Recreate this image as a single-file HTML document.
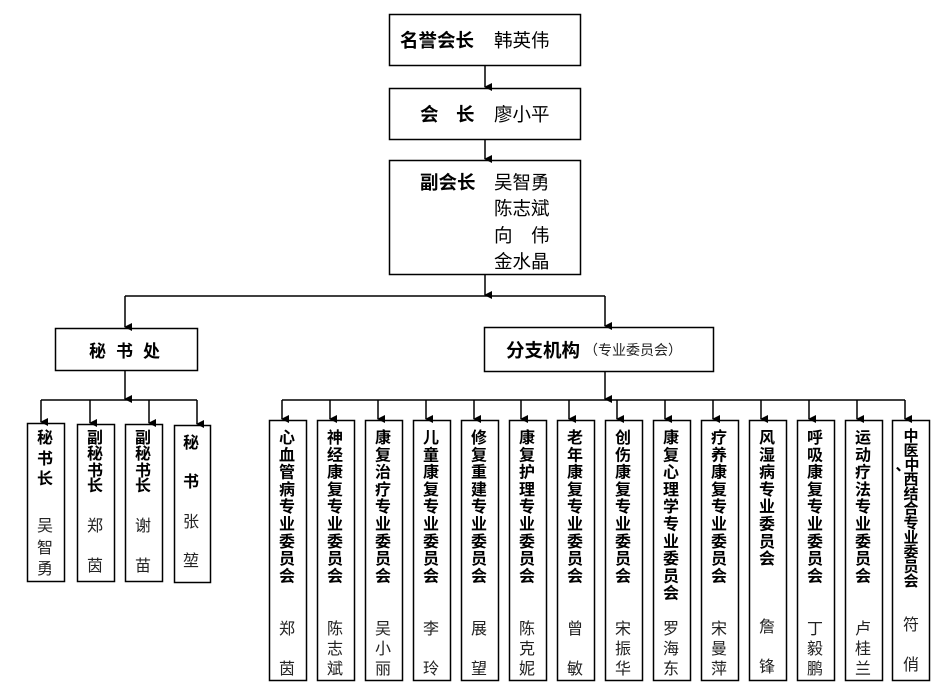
<!DOCTYPE html>
<html><head><meta charset="utf-8"><style>
body{margin:0;background:#fff}
svg{display:block}
text{font-family:"Liberation Sans","Noto Sans CJK SC",sans-serif;fill:#000}
.b{font-weight:bold;font-size:18.5px}
.n{font-size:18.5px}
.v{font-weight:600;font-size:16px;text-anchor:middle}
.m{font-size:16px;text-anchor:middle;fill:#222}
</style></head><body>
<svg width="938" height="689" viewBox="0 0 938 689" xmlns="http://www.w3.org/2000/svg">
<defs><marker id="a" markerWidth="8" markerHeight="8" refX="4" refY="7" orient="auto" markerUnits="userSpaceOnUse"><path d="M0,0 L8,0 L4,8 z" fill="#000"/></marker></defs>
<g fill="none" stroke="#000" stroke-width="1.5">
<rect x="389.5" y="14.5" width="191" height="51"/>
<rect x="389.5" y="88.5" width="191" height="51"/>
<rect x="389.5" y="160.5" width="191" height="114"/>
<rect x="55.5" y="328.5" width="142" height="42"/>
<rect x="484.5" y="327.5" width="229" height="44"/>
<line x1="485" y1="66" x2="485" y2="87" marker-end="url(#a)"/>
<line x1="485" y1="140" x2="485" y2="159" marker-end="url(#a)"/>
<line x1="485" y1="275" x2="485" y2="295" marker-end="url(#a)"/>
<line x1="125" y1="296" x2="605" y2="296"/>
<line x1="125" y1="296" x2="125" y2="327" marker-end="url(#a)"/>
<line x1="605" y1="296" x2="605" y2="326" marker-end="url(#a)"/>
<line x1="125" y1="371" x2="125" y2="399" marker-end="url(#a)"/>
<line x1="41" y1="400" x2="197" y2="400"/>
<line x1="605" y1="372" x2="605" y2="399" marker-end="url(#a)"/>
<line x1="282" y1="400" x2="905" y2="400"/>
</g>
<g fill="none" stroke="#000" stroke-width="1.5">
<rect x="27.5" y="423.5" width="37" height="158"/>
<rect x="77.5" y="424.5" width="37" height="157"/>
<rect x="125.5" y="424.5" width="37" height="157"/>
<rect x="174.5" y="425.5" width="36" height="157"/>
<line x1="41" y1="400" x2="41" y2="422" marker-end="url(#a)"/>
<line x1="90" y1="400" x2="90" y2="423" marker-end="url(#a)"/>
<line x1="149" y1="400" x2="149" y2="423" marker-end="url(#a)"/>
<line x1="197" y1="400" x2="197" y2="424" marker-end="url(#a)"/>
</g>
<text x="400" y="47" class="b">名誉会长</text><text x="494" y="47" class="n">韩英伟</text>
<text x="420" y="121" class="b">会</text><text x="456" y="121" class="b">长</text><text x="494" y="121" class="n">廖小平</text>
<text x="420" y="189" class="b">副会长</text>
<text x="494" y="189" class="n">吴智勇</text>
<text x="494" y="215" class="n">陈志斌</text>
<text x="494" y="242" class="n">向</text><text x="531" y="242" class="n">伟</text>
<text x="494" y="268" class="n">金水晶</text>
<text x="89" y="357" class="b" style="font-size:17px">秘</text><text x="116" y="357" class="b" style="font-size:17px">书</text><text x="143" y="357" class="b" style="font-size:17px">处</text>
<text x="506" y="357" class="b">分支机构</text><text x="584" y="355" style="font-size:14px;fill:#222">（专业委员会）</text>
<text x="45" y="443" class="v">秘</text><text x="45" y="464" class="v">书</text><text x="45" y="484" class="v">长</text>
<text x="95" y="443" class="v">副</text><text x="95" y="459" class="v">秘</text><text x="95" y="476" class="v">书</text><text x="95" y="491" class="v">长</text>
<text x="143" y="443" class="v">副</text><text x="143" y="459" class="v">秘</text><text x="143" y="476" class="v">书</text><text x="143" y="491" class="v">长</text>
<text x="191" y="448" class="v">秘</text><text x="191" y="487" class="v">书</text>
<text x="45" y="531" class="m">吴</text><text x="45" y="553" class="m">智</text><text x="45" y="574" class="m">勇</text>
<text x="95" y="531" class="m">郑</text><text x="95" y="571" class="m">茵</text>
<text x="143" y="531" class="m">谢</text><text x="143" y="571" class="m">苗</text>
<text x="191" y="527" class="m">张</text><text x="191" y="566" class="m">堃</text>
<g fill="none" stroke="#000" stroke-width="1.5">
<rect x="269.5" y="420.5" width="37" height="260"/><line x1="282" y1="400" x2="282" y2="419" marker-end="url(#a)"/>
<rect x="317.5" y="420.5" width="37" height="260"/><line x1="330" y1="400" x2="330" y2="419" marker-end="url(#a)"/>
<rect x="365.5" y="420.5" width="37" height="260"/><line x1="378" y1="400" x2="378" y2="419" marker-end="url(#a)"/>
<rect x="413.5" y="420.5" width="37" height="260"/><line x1="426" y1="400" x2="426" y2="419" marker-end="url(#a)"/>
<rect x="461.5" y="420.5" width="37" height="260"/><line x1="474" y1="400" x2="474" y2="419" marker-end="url(#a)"/>
<rect x="509.5" y="420.5" width="37" height="260"/><line x1="521" y1="400" x2="521" y2="419" marker-end="url(#a)"/>
<rect x="557.5" y="420.5" width="37" height="260"/><line x1="569" y1="400" x2="569" y2="419" marker-end="url(#a)"/>
<rect x="605.5" y="420.5" width="37" height="260"/><line x1="617" y1="400" x2="617" y2="419" marker-end="url(#a)"/>
<rect x="653.5" y="420.5" width="37" height="260"/><line x1="665" y1="400" x2="665" y2="419" marker-end="url(#a)"/>
<rect x="701.5" y="420.5" width="37" height="260"/><line x1="713" y1="400" x2="713" y2="419" marker-end="url(#a)"/>
<rect x="749.5" y="420.5" width="37" height="260"/><line x1="761" y1="400" x2="761" y2="419" marker-end="url(#a)"/>
<rect x="797.5" y="420.5" width="37" height="260"/><line x1="809" y1="400" x2="809" y2="419" marker-end="url(#a)"/>
<rect x="845.5" y="420.5" width="37" height="260"/><line x1="857" y1="400" x2="857" y2="419" marker-end="url(#a)"/>
<rect x="892.5" y="420.5" width="37" height="260"/><line x1="905" y1="400" x2="905" y2="419" marker-end="url(#a)"/>
</g>
<text class="v"><tspan x="287" y="443">心</tspan><tspan x="287" dy="17.3">血</tspan><tspan x="287" dy="17.3">管</tspan><tspan x="287" dy="17.3">病</tspan><tspan x="287" dy="17.3">专</tspan><tspan x="287" dy="17.3">业</tspan><tspan x="287" dy="17.3">委</tspan><tspan x="287" dy="17.3">员</tspan><tspan x="287" dy="17.3">会</tspan></text>
<text class="v"><tspan x="335" y="443">神</tspan><tspan x="335" dy="17.3">经</tspan><tspan x="335" dy="17.3">康</tspan><tspan x="335" dy="17.3">复</tspan><tspan x="335" dy="17.3">专</tspan><tspan x="335" dy="17.3">业</tspan><tspan x="335" dy="17.3">委</tspan><tspan x="335" dy="17.3">员</tspan><tspan x="335" dy="17.3">会</tspan></text>
<text class="v"><tspan x="383" y="443">康</tspan><tspan x="383" dy="17.3">复</tspan><tspan x="383" dy="17.3">治</tspan><tspan x="383" dy="17.3">疗</tspan><tspan x="383" dy="17.3">专</tspan><tspan x="383" dy="17.3">业</tspan><tspan x="383" dy="17.3">委</tspan><tspan x="383" dy="17.3">员</tspan><tspan x="383" dy="17.3">会</tspan></text>
<text class="v"><tspan x="431" y="443">儿</tspan><tspan x="431" dy="17.3">童</tspan><tspan x="431" dy="17.3">康</tspan><tspan x="431" dy="17.3">复</tspan><tspan x="431" dy="17.3">专</tspan><tspan x="431" dy="17.3">业</tspan><tspan x="431" dy="17.3">委</tspan><tspan x="431" dy="17.3">员</tspan><tspan x="431" dy="17.3">会</tspan></text>
<text class="v"><tspan x="479" y="443">修</tspan><tspan x="479" dy="17.3">复</tspan><tspan x="479" dy="17.3">重</tspan><tspan x="479" dy="17.3">建</tspan><tspan x="479" dy="17.3">专</tspan><tspan x="479" dy="17.3">业</tspan><tspan x="479" dy="17.3">委</tspan><tspan x="479" dy="17.3">员</tspan><tspan x="479" dy="17.3">会</tspan></text>
<text class="v"><tspan x="527" y="443">康</tspan><tspan x="527" dy="17.3">复</tspan><tspan x="527" dy="17.3">护</tspan><tspan x="527" dy="17.3">理</tspan><tspan x="527" dy="17.3">专</tspan><tspan x="527" dy="17.3">业</tspan><tspan x="527" dy="17.3">委</tspan><tspan x="527" dy="17.3">员</tspan><tspan x="527" dy="17.3">会</tspan></text>
<text class="v"><tspan x="575" y="443">老</tspan><tspan x="575" dy="17.3">年</tspan><tspan x="575" dy="17.3">康</tspan><tspan x="575" dy="17.3">复</tspan><tspan x="575" dy="17.3">专</tspan><tspan x="575" dy="17.3">业</tspan><tspan x="575" dy="17.3">委</tspan><tspan x="575" dy="17.3">员</tspan><tspan x="575" dy="17.3">会</tspan></text>
<text class="v"><tspan x="623" y="443">创</tspan><tspan x="623" dy="17.3">伤</tspan><tspan x="623" dy="17.3">康</tspan><tspan x="623" dy="17.3">复</tspan><tspan x="623" dy="17.3">专</tspan><tspan x="623" dy="17.3">业</tspan><tspan x="623" dy="17.3">委</tspan><tspan x="623" dy="17.3">员</tspan><tspan x="623" dy="17.3">会</tspan></text>
<text class="v"><tspan x="671" y="443">康</tspan><tspan x="671" dy="17.3">复</tspan><tspan x="671" dy="17.3">心</tspan><tspan x="671" dy="17.3">理</tspan><tspan x="671" dy="17.3">学</tspan><tspan x="671" dy="17.3">专</tspan><tspan x="671" dy="17.3">业</tspan><tspan x="671" dy="17.3">委</tspan><tspan x="671" dy="17.3">员</tspan><tspan x="671" dy="17.3">会</tspan></text>
<text class="v"><tspan x="719" y="443">疗</tspan><tspan x="719" dy="17.3">养</tspan><tspan x="719" dy="17.3">康</tspan><tspan x="719" dy="17.3">复</tspan><tspan x="719" dy="17.3">专</tspan><tspan x="719" dy="17.3">业</tspan><tspan x="719" dy="17.3">委</tspan><tspan x="719" dy="17.3">员</tspan><tspan x="719" dy="17.3">会</tspan></text>
<text class="v"><tspan x="767" y="443">风</tspan><tspan x="767" dy="17.3">湿</tspan><tspan x="767" dy="17.3">病</tspan><tspan x="767" dy="17.3">专</tspan><tspan x="767" dy="17.3">业</tspan><tspan x="767" dy="17.3">委</tspan><tspan x="767" dy="17.3">员</tspan><tspan x="767" dy="17.3">会</tspan></text>
<text class="v"><tspan x="815" y="443">呼</tspan><tspan x="815" dy="17.3">吸</tspan><tspan x="815" dy="17.3">康</tspan><tspan x="815" dy="17.3">复</tspan><tspan x="815" dy="17.3">专</tspan><tspan x="815" dy="17.3">业</tspan><tspan x="815" dy="17.3">委</tspan><tspan x="815" dy="17.3">员</tspan><tspan x="815" dy="17.3">会</tspan></text>
<text class="v"><tspan x="863" y="443">运</tspan><tspan x="863" dy="17.3">动</tspan><tspan x="863" dy="17.3">疗</tspan><tspan x="863" dy="17.3">法</tspan><tspan x="863" dy="17.3">专</tspan><tspan x="863" dy="17.3">业</tspan><tspan x="863" dy="17.3">委</tspan><tspan x="863" dy="17.3">员</tspan><tspan x="863" dy="17.3">会</tspan></text>
<text class="v" style="font-size:15px"><tspan x="911" y="441">中</tspan><tspan x="911" dy="14.5">医</tspan><tspan x="903" dy="14.5">、</tspan><tspan x="912" dy="0">中</tspan><tspan x="911" dy="14.5">西</tspan><tspan x="911" dy="14.5">结</tspan><tspan x="911" dy="14.5">合</tspan><tspan x="911" dy="14.5">专</tspan><tspan x="911" dy="14.5">业</tspan><tspan x="911" dy="14.5">委</tspan><tspan x="911" dy="14.5">员</tspan><tspan x="911" dy="14.5">会</tspan></text>
<text class="m" x="287" y="634">郑</text><text class="m" x="287" y="674">茵</text>
<text class="m" x="335" y="634">陈</text><text class="m" x="335" y="654">志</text><text class="m" x="335" y="674">斌</text>
<text class="m" x="383" y="634">吴</text><text class="m" x="383" y="654">小</text><text class="m" x="383" y="674">丽</text>
<text class="m" x="431" y="634">李</text><text class="m" x="431" y="674">玲</text>
<text class="m" x="479" y="634">展</text><text class="m" x="479" y="674">望</text>
<text class="m" x="527" y="634">陈</text><text class="m" x="527" y="654">克</text><text class="m" x="527" y="674">妮</text>
<text class="m" x="575" y="634">曾</text><text class="m" x="575" y="674">敏</text>
<text class="m" x="623" y="634">宋</text><text class="m" x="623" y="654">振</text><text class="m" x="623" y="674">华</text>
<text class="m" x="671" y="634">罗</text><text class="m" x="671" y="654">海</text><text class="m" x="671" y="674">东</text>
<text class="m" x="719" y="634">宋</text><text class="m" x="719" y="654">曼</text><text class="m" x="719" y="674">萍</text>
<text class="m" x="767" y="632">詹</text><text class="m" x="767" y="672">锋</text>
<text class="m" x="815" y="634">丁</text><text class="m" x="815" y="654">毅</text><text class="m" x="815" y="674">鹏</text>
<text class="m" x="863" y="634">卢</text><text class="m" x="863" y="654">桂</text><text class="m" x="863" y="674">兰</text>
<text class="m" x="911" y="630">符</text><text class="m" x="911" y="670">俏</text>
</svg>
</body></html>
